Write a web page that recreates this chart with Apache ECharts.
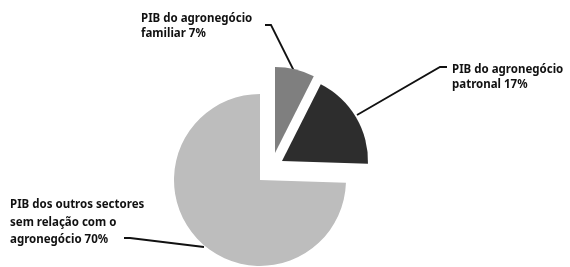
<!DOCTYPE html>
<html>
<head>
<meta charset="utf-8">
<script src="https://cdn.jsdelivr.net/npm/echarts@6/dist/echarts.min.js"></script>
<style>
html, body { margin: 0; padding: 0; background: #fff; }
#chart { width: 570px; height: 267px; }
</style>
</head>
<body>
<div id="chart"></div>
<script>
// data
var names = ['PIB do agronegócio\nfamiliar', 'PIB do agronegócio\npatronal', 'PIB dos outros sectores\nsem relação com o\nagronegócio'];
var values = [7, 17, 70];

// look
var colors = ['#7f7f7f', '#2d2d2d', '#bdbdbd'];
var centers = [[275, 153], [282, 161], [260, 180]];
var labelPos = [
    { x: 141, y: 11, lh: 15, line: [[295, 73], [271, 25], [265, 25]] },
    { x: 452, y: 62, lh: 15, line: [[357, 115], [440, 67], [447, 67]] },
    { x: 10, y: 196, lh: 17.5, line: [[204, 247], [130, 238], [124, 238]] }
];

var series = values.map(function (v, i) {
    return {
        type: 'pie',
        center: centers[i],
        radius: 86,
        startAngle: 90,
        clockwise: true,
        silent: true,
        avoidLabelOverlap: false,
        label: {
            position: 'outside',
            formatter: function (p) { return p.name + ' ' + p.value + '%'; },
            fontFamily: 'Noto Sans',
            fontWeight: 'bold',
            fontSize: 11.5,
            color: '#111',
            lineHeight: labelPos[i].lh
        },
        labelLine: {
            lineStyle: { color: '#111', width: 1.8 }
        },
        labelLayout: function (p) {
            var lp = labelPos[p.dataIndex];
            return {
                x: lp.x,
                y: lp.y,
                align: 'left',
                verticalAlign: 'top',
                labelLinePoints: lp.line
            };
        },
        data: values.map(function (val, j) {
            return {
                value: val,
                name: names[j],
                itemStyle: { color: j === i ? colors[j] : 'rgba(0,0,0,0)' },
                label: { show: j === i },
                labelLine: { show: j === i }
            };
        })
    };
});

echarts.init(document.getElementById('chart')).setOption({
    animation: false,
    series: series
});
</script>
</body>
</html>
